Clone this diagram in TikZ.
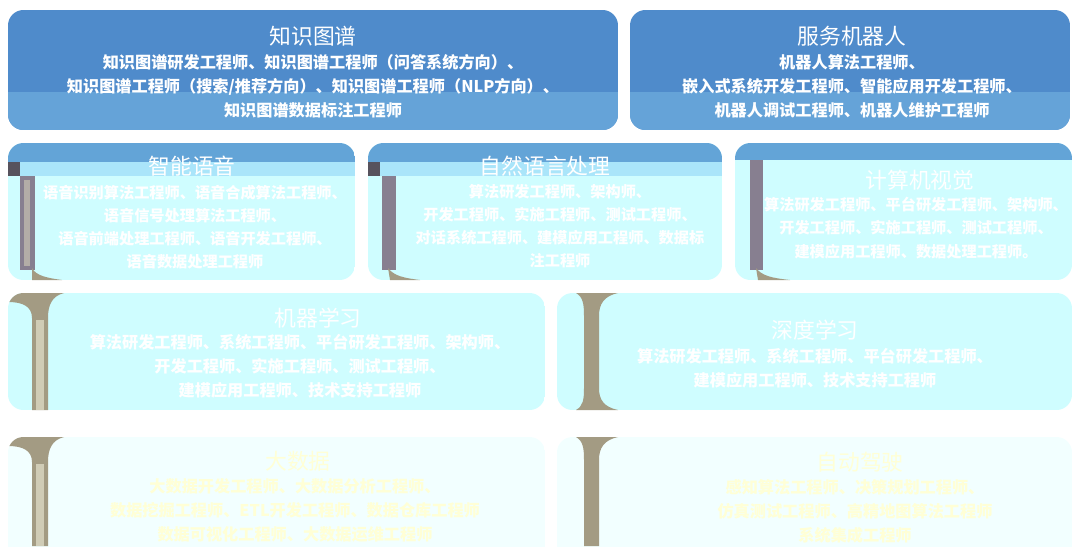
\documentclass[tikz,border=0pt]{standalone}
\usepackage{fontspec}
\setmainfont{Noto Sans CJK SC}
\definecolor{topblue}{HTML}{4F8BCB}
\definecolor{bandblue}{HTML}{65A3D8}
\definecolor{capblue}{HTML}{63A4D7}
\definecolor{cyanbody}{HTML}{CFFDFF}
\definecolor{bandcyan}{HTML}{AAE5FA}
\definecolor{darksq}{HTML}{57525D}
\definecolor{barpurple}{HTML}{877F90}
\definecolor{beam}{HTML}{A39B83}
\definecolor{beamlight}{HTML}{D0CCB6}
\definecolor{palecyan}{HTML}{F2FFFF}
\definecolor{paleyellow}{HTML}{FFFFD6}
\tikzset{
  ttl/.style  = {text=white, inner sep=0, font=\fontsize{15.5}{18}\selectfont},
  jobs/.style = {text=white, inner sep=0, align=center, font=\fontsize{11.5}{17}\selectfont\bfseries},
  small/.style = {font=\fontsize{10.8}{16.5}\selectfont\bfseries},
  faint/.style = {text=paleyellow},
  panel/.style = {rounded corners=11pt}
}
\begin{document}
\begin{tikzpicture}[x=0.025cm, y=-0.025cm]
  \useasboundingbox (0,0) rectangle (1072,546);
  % top row
  \begin{scope} \clip[panel] (8,10) rectangle (618,130);
    \fill[topblue] (8,10) rectangle (618,130); \fill[bandblue] (8,92) rectangle (618,130); \end{scope}
  \begin{scope} \clip[panel] (630,10) rectangle (1070,130);
    \fill[topblue] (630,10) rectangle (1070,130); \fill[bandblue] (630,92) rectangle (1070,130); \end{scope}
  \node[ttl] (kg) at (313,36) {知识图谱};
  \node[jobs] (kgjobs) at (313,86) {知识图谱研发工程师、知识图谱工程师（问答系统方向）、\\知识图谱工程师（搜索/推荐方向）、知识图谱工程师（NLP方向）、\\知识图谱数据标注工程师};
  \node[ttl] (robot) at (852,36) {服务机器人};
  \node[jobs] (robotjobs) at (852,86) {机器人算法工程师、\\嵌入式系统开发工程师、智能应用开发工程师、\\机器人调试工程师、机器人维护工程师};
  % second row
  \begin{scope} \clip[panel] (8,143) rectangle (355,280);
    \fill[cyanbody] (8,143) rectangle (355,280); \fill[capblue] (8,143) rectangle (355,162);
    \fill[bandcyan] (8,162) rectangle (355,176); \fill[darksq] (8,162) rectangle (20,176);
    \fill[barpurple] (20,176) rectangle (35,270); \fill[beamlight!60!barpurple] (24,180) rectangle (30,266);
    \fill[beam] (32,268) .. controls (36,276) and (48,278) .. (62,280) -- (32,280) -- cycle; \end{scope}
  \begin{scope} \clip[panel] (368,143) rectangle (722,280);
    \fill[cyanbody] (368,143) rectangle (722,280); \fill[capblue] (368,143) rectangle (722,162);
    \fill[bandcyan] (368,162) rectangle (722,176); \fill[darksq] (368,162) rectangle (380,176);
    \fill[barpurple] (382,176) rectangle (396,270);
    \fill[beam] (388,268) .. controls (394,276) and (404,278) .. (420,280) -- (390,280) -- cycle; \end{scope}
  \begin{scope} \clip[panel] (735,143) rectangle (1072,280);
    \fill[cyanbody] (735,143) rectangle (1072,280); \fill[capblue] (735,143) rectangle (1072,160);
    \fill[barpurple] (750,160) rectangle (763,270);
    \fill[beam] (756,268) .. controls (762,276) and (772,278) .. (790,280) -- (758,280) -- cycle; \end{scope}
  \node[ttl] (voice) at (192,166) {智能语音};
  \node[jobs, small] (voicejobs) at (195,227) {语音识别算法工程师、语音合成算法工程师、\\语音信号处理算法工程师、\\语音前端处理工程师、语音开发工程师、\\语音数据处理工程师};
  \node[ttl] (nlp) at (545,166) {自然语言处理};
  \node[jobs, small] (nlpjobs) at (560,226) {算法研发工程师、架构师、\\开发工程师、实施工程师、测试工程师、\\对话系统工程师、建模应用工程师、数据标\\注工程师};
  \node[ttl] (cv) at (920,180) {计算机视觉};
  \node[jobs, small] (cvjobs) at (916,228) {算法研发工程师、平台研发工程师、架构师、\\开发工程师、实施工程师、测试工程师、\\建模应用工程师、数据处理工程师。};
  % third row
  \begin{scope} \clip[panel] (8,293) rectangle (545,410);
    \fill[cyanbody] (8,293) rectangle (545,410);
    \fill[beam] (8,293) -- (64,293) .. controls (52,296) and (48,305) .. (48,318) -- (48,410) -- (32,410) -- (32,318) .. controls (32,306) and (22,302) .. (8,302) -- cycle;
    \fill[beamlight] (36,320) rectangle (44,410); \end{scope}
  \begin{scope} \clip[panel] (557,293) rectangle (1072,410);
    \fill[cyanbody] (557,293) rectangle (1072,410);
    \fill[beam] (576,293) -- (618,293) .. controls (604,296) and (599,304) .. (599,316) -- (599,388) .. controls (599,400) and (604,407) .. (618,410) -- (576,410) .. controls (583,406) and (584,400) .. (584,388) -- (584,316) .. controls (584,304) and (583,297) .. (576,293) -- cycle; \end{scope}
  \node[ttl] (ml) at (318,318) {机器学习};
  \node[jobs] (mljobs) at (300,366) {算法研发工程师、系统工程师、平台研发工程师、架构师、\\开发工程师、实施工程师、测试工程师、\\建模应用工程师、技术支持工程师};
  \node[ttl] (dl) at (815,330) {深度学习};
  \node[jobs] (dljobs) at (815,368) {算法研发工程师、系统工程师、平台研发工程师、\\建模应用工程师、技术支持工程师};
  % fourth row
  \begin{scope} \clip[panel] (8,437) rectangle (545,560);
    \fill[palecyan] (8,437) rectangle (545,560);
    \fill[beam] (8,437) -- (64,437) .. controls (52,440) and (48,449) .. (48,462) -- (48,546) -- (32,546) -- (32,462) .. controls (32,450) and (22,446) .. (8,446) -- cycle;
    \fill[beamlight] (36,464) rectangle (44,546); \end{scope}
  \begin{scope} \clip[panel] (557,437) rectangle (1072,560);
    \fill[palecyan] (557,437) rectangle (1072,560);
    \fill[beam] (576,437) -- (618,437) .. controls (604,440) and (599,448) .. (599,460) -- (599,546) -- (584,546) -- (584,460) .. controls (584,448) and (583,441) .. (576,437) -- cycle; \end{scope}
  \node[ttl, faint] (bd) at (298,461) {大数据};
  \node[jobs, faint] (bdjobs) at (295,510) {大数据开发工程师、大数据分析工程师、\\数据挖掘工程师、ETL开发工程师、数据仓库工程师\\数据可视化工程师、大数据运维工程师};
  \node[ttl, faint] (ad) at (860,462) {自动驾驶};
  \node[jobs, faint] (adjobs) at (855,511) {感知算法工程师、决策规划工程师、\\仿真测试工程师、高精地图算法工程师\\系统集成工程师};
\end{tikzpicture}
\end{document}
